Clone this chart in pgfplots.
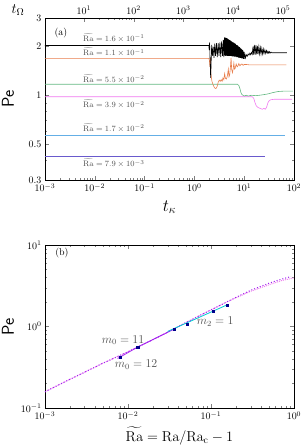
\documentclass[border=0pt]{standalone}
\usepackage{pgfplots}
\pgfplotsset{compat=1.18}
\usepackage{amsmath}
\definecolor{corange}{RGB}{232,125,75}
\definecolor{cgreen}{RGB}{100,185,130}
\definecolor{cpink}{RGB}{240,120,240}
\definecolor{clblue}{RGB}{100,175,230}
\definecolor{cslate}{RGB}{105,90,205}
\definecolor{cnavy}{RGB}{0,0,140}
\definecolor{ccyan}{RGB}{0,200,210}
\definecolor{cpurple}{RGB}{160,32,240}
\definecolor{cviolet}{RGB}{238,130,238}
\definecolor{ctext}{RGB}{80,80,80}
\pgfplotsset{every axis/.append style={tick align=inside, major tick length=4bp, minor tick length=2bp, scale only axis, width=249bp, axis line style={line width=0.7pt}}}
\begin{document}
\begin{tikzpicture}
\useasboundingbox (0,0) rectangle (303bp,445bp);
% ---------------- panel (a)
\begin{axis}[at={(45bp,265bp)},anchor=south west,height=162bp,
  xmode=log,ymode=log,xmin=1e-3,xmax=1e2,ymin=0.3,ymax=3,
  xtick pos=left,
  xtick={1e-3,1e-2,1e-1,1,10,100},
  ytick={0.3,0.5,1,2,3}, yticklabels={0.3,0.5,1,2,3},
  minor ytick={0.4,0.6,0.7,0.8,0.9},
  xlabel={$t_\kappa$}, xlabel style={font=\LARGE, at={(axis description cs:0.5,-0.167)}, anchor=center},
  ylabel={\textsf{Pe}}, ylabel style={font=\LARGE, at={(axis description cs:-0.149,0.5)}, anchor=center},
  every axis plot/.append style={line width=0.6pt}]
\addplot[cslate] coordinates {(0.001,0.42)(26,0.42)};
\addplot[clblue] coordinates {(0.001,0.57)(66,0.57)};
\addplot[cpink] coordinates {(0.001,0.98)(14.5,0.98)(15.5,0.96)(16.5,0.9)(17.5,0.86)(19,0.84)(21,0.83)(23,0.82)(25,0.83)(26.5,0.82)(28,0.84)(30,0.9)(32,0.93)(35,0.94)(40,0.945)(60,0.945)(92,0.945)};
\addplot[cgreen] coordinates {(0.001,1.17)(7.3,1.17)(7.8,1.15)(8.2,1.1)(8.6,1.04)(9.0,1.01)(9.5,1.0)(10,0.99)(11,1.0)(12,0.99)(14,1.0)(17,0.995)(20,1.0)(25,1.01)(30,1.02)(38,1.04)(48,1.055)(60,1.06)(95,1.06)};
\addplot[corange] coordinates {(0.001,1.69)(1.95,1.69)(2.0,1.65)(2.05,1.5)(2.1,1.7)(2.15,1.35)(2.25,1.22)(2.4,1.15)(2.55,1.11)(2.7,1.10)(2.85,1.13)(3.0,1.2)(3.15,1.24)(3.3,1.22)(3.45,1.25)(3.6,1.22)(3.75,1.28)(3.9,1.25)(4.05,1.36)(4.2,1.27)(4.4,1.26)(4.6,1.32)(4.8,1.45)(4.95,1.3)(5.1,1.33)(5.3,1.5)(5.45,1.7)(5.6,1.45)(5.8,1.38)(6.0,1.45)(6.2,1.58)(6.4,1.45)(6.6,1.47)(6.9,1.56)(7.2,1.5)(7.5,1.52)(7.8,1.57)(8.2,1.52)(8.6,1.55)(9,1.56)(9.5,1.53)(10,1.55)(11,1.55)(13,1.54)(20,1.54)(70,1.54)};
\addplot[black] coordinates {(0.001,2.03)(1.95,2.03)(1.98,1.9)(2.02,2.12)(2.07,1.6)(2.12,1.28)(2.17,1.6)(2.22,2.05)(2.3,1.75)(2.38,2.0)(2.47,1.7)(2.56,2.08)(2.66,1.75)(2.77,2.1)(2.88,1.72)(3.0,2.1)(3.12,1.75)(3.25,2.12)(3.38,1.72)(3.52,2.15)(3.66,1.75)(3.8,2.2)(3.9,1.72)
(4.0,2.28)(4.08,1.76)(4.16,2.27)(4.24,1.75)(4.32,2.26)(4.4,1.76)(4.48,2.25)(4.56,1.75)(4.64,2.24)(4.72,1.75)(4.8,2.22)(4.9,1.75)(5.0,2.2)(5.1,1.75)(5.2,2.19)(5.3,1.75)(5.4,2.17)(5.5,1.75)(5.6,2.15)(5.7,1.74)(5.8,2.14)(5.9,1.74)(6.0,2.12)(6.12,1.74)(6.24,2.11)(6.36,1.73)(6.48,2.09)(6.6,1.73)(6.72,2.08)(6.84,1.73)(6.96,2.05)(7.1,1.72)(7.24,2.04)(7.38,1.72)(7.52,2.02)(7.66,1.71)(7.8,2.0)(7.95,1.71)(8.1,1.98)(8.25,1.70)(8.4,1.96)(8.55,1.70)(8.7,1.94)(8.85,1.69)(9.0,1.92)(9.2,1.69)(9.4,1.9)(9.6,1.68)(9.8,1.86)(10.0,1.68)(10.3,1.8)(10.6,1.7)(11,1.78)(11.5,1.74)(12,1.8)(12.5,1.77)(13,1.82)(13.5,1.78)(14,1.84)(14.5,1.79)
(15,2.0)(15.5,1.78)(16,2.05)(16.6,1.78)(17.2,2.04)(17.8,1.79)(18.4,2.02)(19,1.79)(19.7,2.0)(20.4,1.8)(21.1,1.97)(21.8,1.8)(22.6,1.95)(23.4,1.8)(24.2,1.93)(25,1.81)(26,1.91)(27,1.81)(28,1.89)(29,1.82)(30,1.87)(31,1.82)(32,1.86)(33,1.82)(34.5,1.85)(36,1.83)(72,1.83)};
\node[anchor=center,font=\normalsize] at (rel axis cs:0.064,0.907) {(a)};
\begin{scope}[every node/.style={anchor=west,font=\footnotesize,text=ctext,inner sep=0pt}]
\node at (axis cs:0.0058,2.27) {$\widetilde{\mathrm{Ra}} = 1.6\times 10^{-1}$};
\node at (axis cs:0.0058,1.84) {$\widetilde{\mathrm{Ra}} = 1.1\times 10^{-1}$};
\node at (axis cs:0.0058,1.27) {$\widetilde{\mathrm{Ra}} = 5.5\times 10^{-2}$};
\node at (axis cs:0.0058,0.88) {$\widetilde{\mathrm{Ra}} = 3.9\times 10^{-2}$};
\node at (axis cs:0.0058,0.63) {$\widetilde{\mathrm{Ra}} = 1.7\times 10^{-2}$};
\node at (axis cs:0.0058,0.38) {$\widetilde{\mathrm{Ra}} = 7.9\times 10^{-3}$};
\end{scope}
\end{axis}
% top t_Omega axis
\begin{axis}[at={(45bp,265bp)},anchor=south west,height=162bp,
  xmode=log,xmin=1.66,xmax=1.66e5,ymin=0,ymax=1,
  hide y axis, xtick pos=right, xticklabel pos=right,
  xtick={10,100,1000,10000,100000}]
\addplot[draw=none] coordinates {(10,0.5)(100,0.5)};
\end{axis}
\node[font=\Large] at (18bp,435bp) {$t_\Omega$};
% ---------------- panel (b)
\begin{axis}[at={(45bp,37bp)},anchor=south west,height=163bp,
  xmode=log,ymode=log,xmin=1e-3,xmax=1,ymin=0.1,ymax=10,
  xtick={1e-3,1e-2,1e-1,1}, ytick={0.1,1,10},
  xlabel={$\widetilde{\mathrm{Ra}} = \mathrm{Ra}/\mathrm{Ra}_{\mathrm{c}} - 1$},
  xlabel style={font=\Large, at={(axis description cs:0.54,-0.17)}, anchor=center},
  ylabel={\textsf{Pe}}, ylabel style={font=\LARGE, at={(axis description cs:-0.149,0.5)}, anchor=center}]
\addplot[cviolet, densely dotted, line width=1pt] coordinates {(0.001,0.158)(0.002,0.225)(0.003,0.275)(0.005,0.355)(0.01,0.49)(0.02,0.69)(0.03,0.85)(0.05,1.12)(0.1,1.6)(0.15,1.97)(0.2,2.25)(0.3,2.7)(0.5,3.25)(0.7,3.65)(1.0,3.95)};
\addplot[cpurple, dotted, line width=1pt] coordinates {(0.001,0.158)(0.002,0.225)(0.003,0.275)(0.005,0.355)(0.01,0.49)(0.02,0.69)(0.03,0.85)(0.05,1.12)(0.1,1.6)(0.15,1.97)(0.2,2.28)(0.3,2.78)(0.5,3.4)(0.7,3.8)(0.92,4.1)};
\addplot[cpurple, line width=0.8pt] coordinates {(0.0075,0.405)(0.0131,0.56)(0.036,0.93)};
\addplot[ccyan, line width=0.8pt] coordinates {(0.030,0.87)(0.156,1.84)};
\addplot[only marks, mark=square*, mark size=1.1pt, cnavy] coordinates {(0.0080,0.42)(0.0131,0.56)(0.0358,0.925)(0.0518,1.074)(0.107,1.55)(0.156,1.84)};
\node[anchor=center,font=\normalsize] at (rel axis cs:0.068,0.951) {(b)};
\node[font=\large,text=ctext] at (axis cs:0.0087,0.68) {$m_0 = 11$};
\node[font=\large,text=ctext] at (axis cs:0.0125,0.34) {$m_0 = 12$};
\node[font=\large,text=ctext] at (axis cs:0.112,1.14) {$m_2 = 1$};
\end{axis}
\end{tikzpicture}
\end{document}
